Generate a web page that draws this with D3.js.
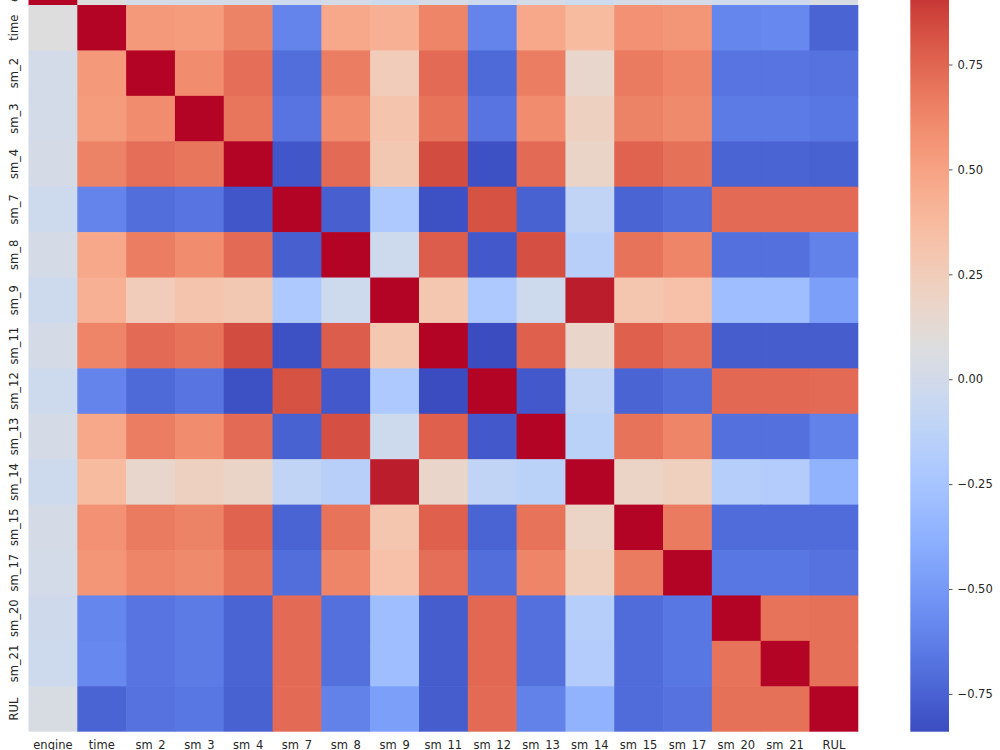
<!DOCTYPE html>
<html>
<head>
<meta charset="utf-8">
<script src="https://cdn.jsdelivr.net/npm/d3@7"></script>
<style>
  html, body { margin: 0; padding: 0; background: #ffffff; }
  svg { display: block; }
  text { font-family: "DejaVu Sans", sans-serif; fill: #262626; }
</style>
</head>
<body>
<svg id="chart" width="1000" height="750"></svg>
<script>
// ---- categories ----
const labels = ["engine","time","sm_2","sm_3","sm_4","sm_7","sm_8","sm_9","sm_11","sm_12","sm_13","sm_14","sm_15","sm_17","sm_20","sm_21","RUL"];

// ---- correlation rows (one per label) ----
const r_engine = [1, 0.08, 0.01, 0.01, 0.02, -0.03, 0.02, -0.03, 0.02, -0.03, 0.02, -0.03, 0.02, 0.01, -0.02, -0.03, 0.04];
const r_time   = [0.08, 1, 0.54, 0.53, 0.64, -0.60, 0.47, 0.43, 0.63, -0.60, 0.47, 0.37, 0.58, 0.56, -0.59, -0.58, -0.74];
const r_sm2    = [0.01, 0.54, 1, 0.60, 0.72, -0.70, 0.66, 0.25, 0.73, -0.72, 0.66, 0.16, 0.67, 0.63, -0.67, -0.67, -0.68];
const r_sm3    = [0.01, 0.53, 0.60, 1, 0.69, -0.67, 0.60, 0.31, 0.70, -0.67, 0.60, 0.22, 0.64, 0.61, -0.64, -0.64, -0.66];
const r_sm4    = [0.02, 0.64, 0.72, 0.69, 1, -0.80, 0.73, 0.28, 0.84, -0.82, 0.73, 0.18, 0.76, 0.71, -0.74, -0.74, -0.75];
const r_sm7    = [-0.03, -0.60, -0.70, -0.67, -0.80, 1, -0.76, -0.21, -0.82, 0.82, -0.75, -0.10, -0.74, -0.70, 0.73, 0.73, 0.73];
const r_sm8    = [0.02, 0.47, 0.66, 0.60, 0.73, -0.76, 1, -0.03, 0.78, -0.79, 0.83, -0.15, 0.70, 0.63, -0.69, -0.69, -0.61];
const r_sm9    = [-0.03, 0.43, 0.25, 0.31, 0.28, -0.21, -0.03, 1, 0.29, -0.21, -0.03, 0.96, 0.30, 0.33, -0.29, -0.29, -0.47];
const r_sm11   = [0.02, 0.63, 0.73, 0.70, 0.84, -0.82, 0.78, 0.29, 1, -0.84, 0.77, 0.17, 0.77, 0.72, -0.77, -0.77, -0.77];
const r_sm12   = [-0.03, -0.60, -0.72, -0.67, -0.82, 0.82, -0.79, -0.21, -0.84, 1, -0.79, -0.10, -0.74, -0.70, 0.74, 0.74, 0.73];
const r_sm13   = [0.02, 0.47, 0.66, 0.60, 0.73, -0.75, 0.83, -0.03, 0.77, -0.79, 1, -0.14, 0.70, 0.63, -0.69, -0.69, -0.61];
const r_sm14   = [-0.03, 0.37, 0.16, 0.22, 0.18, -0.10, -0.15, 0.96, 0.17, -0.10, -0.14, 1, 0.19, 0.23, -0.17, -0.18, -0.36];
const r_sm15   = [0.02, 0.58, 0.67, 0.64, 0.76, -0.74, 0.70, 0.30, 0.77, -0.74, 0.70, 0.19, 1, 0.67, -0.71, -0.71, -0.71];
const r_sm17   = [0.01, 0.56, 0.63, 0.61, 0.71, -0.70, 0.63, 0.33, 0.72, -0.70, 0.63, 0.23, 0.67, 1, -0.66, -0.66, -0.68];
const r_sm20   = [-0.02, -0.59, -0.67, -0.64, -0.74, 0.73, -0.69, -0.29, -0.77, 0.74, -0.69, -0.17, -0.71, -0.66, 1, 0.70, 0.71];
const r_sm21   = [-0.03, -0.58, -0.67, -0.64, -0.74, 0.73, -0.69, -0.29, -0.77, 0.74, -0.69, -0.18, -0.71, -0.66, 0.70, 1, 0.71];
const r_RUL    = [0.04, -0.74, -0.68, -0.66, -0.75, 0.73, -0.61, -0.47, -0.77, 0.73, -0.61, -0.36, -0.71, -0.68, 0.71, 0.71, 1];

// ---- colorbar ticks ----
const cbTicks = [-0.75, -0.5, -0.25, 0, 0.25, 0.5, 0.75];

const rows = [r_engine, r_time, r_sm2, r_sm3, r_sm4, r_sm7, r_sm8, r_sm9, r_sm11, r_sm12, r_sm13, r_sm14, r_sm15, r_sm17, r_sm20, r_sm21, r_RUL];

// coolwarm colormap (Moreland diverging table)
const cw = [[59,76,192],[68,90,204],[77,104,215],[87,117,225],[98,130,234],[108,142,241],[119,154,247],[130,165,251],[141,176,254],[152,185,255],[163,194,255],[174,201,253],[184,208,249],[194,213,244],[204,217,238],[213,219,230],[221,221,221],[229,216,209],[236,211,197],[241,204,185],[245,196,173],[247,187,160],[247,177,148],[247,166,135],[244,154,123],[241,141,111],[236,127,99],[229,112,88],[222,96,77],[213,80,66],[203,62,56],[192,40,47],[180,4,38]];
function coolwarm(t) {
  t = Math.max(0, Math.min(1, t));
  const p = t * (cw.length - 1);
  const i = Math.min(cw.length - 2, Math.floor(p));
  const f = p - i;
  const a = cw[i], b = cw[i + 1];
  return `rgb(${Math.round(a[0] + (b[0]-a[0])*f)},${Math.round(a[1] + (b[1]-a[1])*f)},${Math.round(a[2] + (b[2]-a[2])*f)})`;
}

const cells = [];
rows.forEach((r, i) => r.forEach((v, j) => cells.push({row: labels[i], col: labels[j], v})));
const vmin = d3.min(cells, d => d.v), vmax = d3.max(cells, d => d.v);
const norm = d3.scaleLinear().domain([vmin, vmax]).range([0, 1]);
const color = v => coolwarm(norm(v));

const plotLeft = 28.5, plotRight = 858.3, plotTop = -40.4, plotBottom = 731.7;
const x = d3.scaleBand().domain(labels).range([plotLeft, plotRight]).padding(0);
const y = d3.scaleBand().domain(labels).range([plotTop, plotBottom]).padding(0);

const svg = d3.select("#chart");

svg.append("g").selectAll("rect").data(cells).join("rect")
  .attr("x", d => x(d.col))
  .attr("y", d => y(d.row))
  .attr("width", d => x.bandwidth() + (d.col === "RUL" ? 0 : 0.6))
  .attr("height", d => y.bandwidth() + (d.row === "RUL" ? 0 : 0.6))
  .attr("fill", d => color(d.v));

// x labels
svg.append("g").selectAll("text").data(labels).join("text")
  .attr("x", d => x(d) + x.bandwidth() / 2)
  .attr("y", 749)
  .attr("text-anchor", "middle")
  .style("font-size", "11.5px")
  .text(d => d);

// y labels
svg.append("g").selectAll("text").data(labels).join("text")
  .attr("transform", d => `translate(17.5,${y(d) + y.bandwidth() / 2}) rotate(-90)`)
  .attr("text-anchor", "middle")
  .style("font-size", "11.5px")
  .text(d => d);

// colorbar
const cbX = 910.3, cbW = 38.7;
const cbScale = d3.scaleLinear().domain([vmin, vmax]).range([plotBottom, plotTop]);
const defs = svg.append("defs");
const grad = defs.append("linearGradient").attr("id", "cbgrad")
  .attr("x1", 0).attr("y1", 1).attr("x2", 0).attr("y2", 0);
d3.range(0, 1.0001, 1 / 64).forEach(t => {
  grad.append("stop").attr("offset", t).attr("stop-color", coolwarm(t));
});
svg.append("rect")
  .attr("x", cbX).attr("y", plotTop)
  .attr("width", cbW).attr("height", plotBottom - plotTop)
  .attr("fill", "url(#cbgrad)");

const cbAxis = d3.axisRight(cbScale).tickValues(cbTicks).tickFormat(d3.format(".2f")).tickSize(3.5).tickPadding(5);
const cbG = svg.append("g").attr("transform", `translate(${cbX + cbW},0)`).call(cbAxis);
cbG.select(".domain").remove();
cbG.selectAll("line").attr("stroke", "#262626").attr("stroke-width", 0.8);
cbG.selectAll("text").style("font-size", "11.5px").style("font-family", "DejaVu Sans").attr("fill", "#262626");
</script>
</body>
</html>
